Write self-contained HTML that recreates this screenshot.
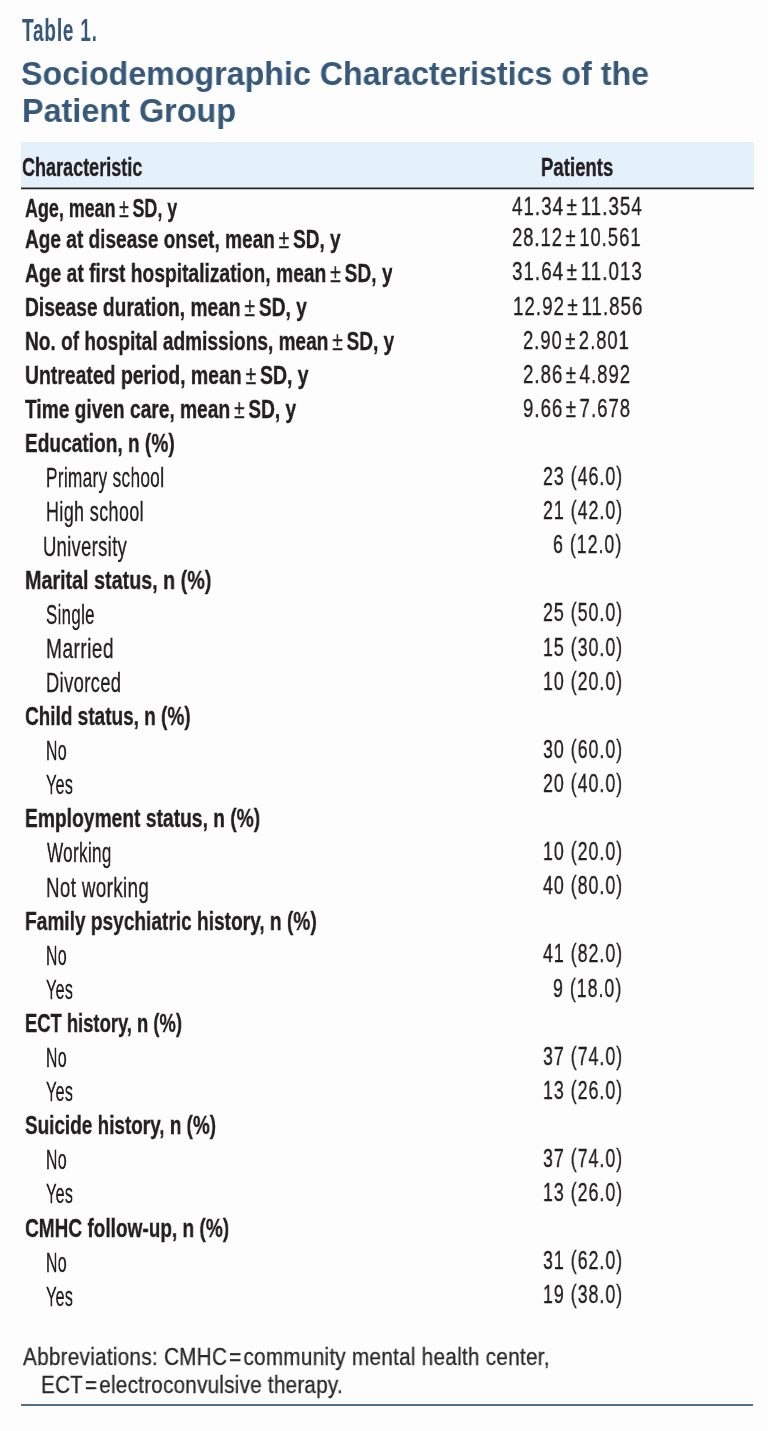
<!DOCTYPE html>
<html lang="en"><head><meta charset="utf-8"><title>Table 1. Sociodemographic Characteristics of the Patient Group</title>
<style>
html,body{margin:0;padding:0;background:#fcfdfc;}
body{width:768px;height:1431px;position:relative;overflow:hidden;font-family:"Liberation Sans",Arial,sans-serif;}
.t{position:absolute;white-space:nowrap;transform-origin:0 0;margin:0;will-change:transform;}
.pm{font-weight:400;}
.band{position:absolute;left:21px;top:142px;width:733px;height:46px;background:#e4f1fb;}
.hl{position:absolute;left:21px;top:187px;width:733px;height:3px;background:linear-gradient(to bottom,#8a9096 0,#8a9096 1px,#262324 1px,#262324 2px,#c4c6c8 2px,#c4c6c8 3px);}
.bl{position:absolute;left:21px;top:1404px;width:732px;height:2px;background:#566f88;}
</style></head><body>
<div class="band"></div><div class="hl"></div><div class="bl"></div>
<div class="t" style="left:22.10px;top:14.80px;font-size:31px;line-height:31px;font-weight:700;color:#375878;transform:scaleX(0.6158);letter-spacing:1.2px;">Table 1.</div>
<div class="t" style="left:21.42px;top:56.70px;font-size:33px;line-height:33px;font-weight:700;color:#375878;transform:scaleX(0.9757);">Sociodemographic Characteristics of the</div>
<div class="t" style="left:22.04px;top:93.80px;font-size:33px;line-height:33px;font-weight:700;color:#375878;transform:scaleX(0.9814);">Patient Group</div>
<div class="t" style="left:21.52px;top:154.10px;font-size:26.7px;line-height:26.7px;font-weight:700;color:#231f20;transform:scaleX(0.6757);-webkit-text-stroke:0.35px #231f20;">Characteristic</div>
<div class="t" style="left:541.30px;top:153.80px;font-size:26.7px;line-height:26.7px;font-weight:700;color:#231f20;transform:scaleX(0.6961);-webkit-text-stroke:0.35px #231f20;">Patients</div>
<div class="t" style="left:24.80px;top:194.60px;font-size:26.7px;line-height:26.7px;font-weight:700;color:#231f20;transform:scaleX(0.6705);-webkit-text-stroke:0.35px #231f20;">Age, mean <span class="pm">±</span> SD, y</div>
<div class="t" style="left:512.30px;top:194.30px;font-size:25px;line-height:25px;font-weight:400;color:#231f20;letter-spacing:1.4px;transform:scaleX(0.7491);-webkit-text-stroke:0.35px #231f20;">41.34 ± 11.354</div>
<div class="t" style="left:24.80px;top:225.60px;font-size:26.7px;line-height:26.7px;font-weight:700;color:#231f20;transform:scaleX(0.7138);-webkit-text-stroke:0.35px #231f20;">Age at disease onset, mean <span class="pm">±</span> SD, y</div>
<div class="t" style="left:511.57px;top:225.30px;font-size:25px;line-height:25px;font-weight:400;color:#231f20;letter-spacing:1.4px;transform:scaleX(0.7339);-webkit-text-stroke:0.35px #231f20;">28.12 ± 10.561</div>
<div class="t" style="left:24.80px;top:259.70px;font-size:26.7px;line-height:26.7px;font-weight:700;color:#231f20;transform:scaleX(0.7205);-webkit-text-stroke:0.35px #231f20;">Age at first hospitalization, mean <span class="pm">±</span> SD, y</div>
<div class="t" style="left:511.55px;top:259.40px;font-size:25px;line-height:25px;font-weight:400;color:#231f20;letter-spacing:1.4px;transform:scaleX(0.7494);-webkit-text-stroke:0.35px #231f20;">31.64 ± 11.013</div>
<div class="t" style="left:25.28px;top:293.80px;font-size:26.7px;line-height:26.7px;font-weight:700;color:#231f20;transform:scaleX(0.7197);-webkit-text-stroke:0.35px #231f20;">Disease duration, mean <span class="pm">±</span> SD, y</div>
<div class="t" style="left:512.65px;top:293.50px;font-size:25px;line-height:25px;font-weight:400;color:#231f20;letter-spacing:1.4px;transform:scaleX(0.7471);-webkit-text-stroke:0.35px #231f20;">12.92 ± 11.856</div>
<div class="t" style="left:25.28px;top:327.90px;font-size:26.7px;line-height:26.7px;font-weight:700;color:#231f20;transform:scaleX(0.7153);-webkit-text-stroke:0.35px #231f20;">No. of hospital admissions, mean <span class="pm">±</span> SD, y</div>
<div class="t" style="left:523.27px;top:327.60px;font-size:25px;line-height:25px;font-weight:400;color:#231f20;letter-spacing:1.4px;transform:scaleX(0.7322);-webkit-text-stroke:0.35px #231f20;">2.90 ± 2.801</div>
<div class="t" style="left:24.97px;top:362.00px;font-size:26.7px;line-height:26.7px;font-weight:700;color:#231f20;transform:scaleX(0.7267);-webkit-text-stroke:0.35px #231f20;">Untreated period, mean <span class="pm">±</span> SD, y</div>
<div class="t" style="left:523.26px;top:361.70px;font-size:25px;line-height:25px;font-weight:400;color:#231f20;letter-spacing:1.4px;transform:scaleX(0.7413);-webkit-text-stroke:0.35px #231f20;">2.86 ± 4.892</div>
<div class="t" style="left:25.00px;top:396.10px;font-size:26.7px;line-height:26.7px;font-weight:700;color:#231f20;transform:scaleX(0.7175);-webkit-text-stroke:0.35px #231f20;">Time given care, mean <span class="pm">±</span> SD, y</div>
<div class="t" style="left:523.26px;top:395.80px;font-size:25px;line-height:25px;font-weight:400;color:#231f20;letter-spacing:1.4px;transform:scaleX(0.7413);-webkit-text-stroke:0.35px #231f20;">9.66 ± 7.678</div>
<div class="t" style="left:25.28px;top:430.20px;font-size:26.7px;line-height:26.7px;font-weight:700;color:#231f20;transform:scaleX(0.7159);-webkit-text-stroke:0.35px #231f20;">Education, n (%)</div>
<div class="t" style="left:46.38px;top:464.30px;font-size:28px;line-height:28px;font-weight:400;color:#231f20;letter-spacing:0.6px;transform:scaleX(0.6113);-webkit-text-stroke:0.35px #231f20;">Primary school</div>
<div class="t" style="left:542.79px;top:464.00px;font-size:25px;line-height:25px;font-weight:400;color:#231f20;letter-spacing:1.4px;transform:scaleX(0.7110);-webkit-text-stroke:0.35px #231f20;">23 (46.0)</div>
<div class="t" style="left:46.12px;top:498.40px;font-size:28px;line-height:28px;font-weight:400;color:#231f20;letter-spacing:0.6px;transform:scaleX(0.6409);-webkit-text-stroke:0.35px #231f20;">High school</div>
<div class="t" style="left:542.79px;top:498.10px;font-size:25px;line-height:25px;font-weight:400;color:#231f20;letter-spacing:1.4px;transform:scaleX(0.7110);-webkit-text-stroke:0.35px #231f20;">21 (42.0)</div>
<div class="t" style="left:42.89px;top:532.50px;font-size:28px;line-height:28px;font-weight:400;color:#231f20;letter-spacing:0.6px;transform:scaleX(0.6528);-webkit-text-stroke:0.35px #231f20;">University</div>
<div class="t" style="left:553.45px;top:532.20px;font-size:25px;line-height:25px;font-weight:400;color:#231f20;letter-spacing:1.4px;transform:scaleX(0.7110);-webkit-text-stroke:0.35px #231f20;">6 (12.0)</div>
<div class="t" style="left:25.26px;top:566.60px;font-size:26.7px;line-height:26.7px;font-weight:700;color:#231f20;transform:scaleX(0.7392);-webkit-text-stroke:0.35px #231f20;">Marital status, n (%)</div>
<div class="t" style="left:46.20px;top:600.70px;font-size:28px;line-height:28px;font-weight:400;color:#231f20;letter-spacing:0.6px;transform:scaleX(0.6000);-webkit-text-stroke:0.35px #231f20;">Single</div>
<div class="t" style="left:542.79px;top:600.40px;font-size:25px;line-height:25px;font-weight:400;color:#231f20;letter-spacing:1.4px;transform:scaleX(0.7110);-webkit-text-stroke:0.35px #231f20;">25 (50.0)</div>
<div class="t" style="left:46.03px;top:634.80px;font-size:28px;line-height:28px;font-weight:400;color:#231f20;letter-spacing:0.6px;transform:scaleX(0.6853);-webkit-text-stroke:0.35px #231f20;">Married</div>
<div class="t" style="left:542.79px;top:634.50px;font-size:25px;line-height:25px;font-weight:400;color:#231f20;letter-spacing:1.4px;transform:scaleX(0.7110);-webkit-text-stroke:0.35px #231f20;">15 (30.0)</div>
<div class="t" style="left:46.09px;top:668.90px;font-size:28px;line-height:28px;font-weight:400;color:#231f20;letter-spacing:0.6px;transform:scaleX(0.6541);-webkit-text-stroke:0.35px #231f20;">Divorced</div>
<div class="t" style="left:542.79px;top:668.60px;font-size:25px;line-height:25px;font-weight:400;color:#231f20;letter-spacing:1.4px;transform:scaleX(0.7110);-webkit-text-stroke:0.35px #231f20;">10 (20.0)</div>
<div class="t" style="left:24.99px;top:703.00px;font-size:26.7px;line-height:26.7px;font-weight:700;color:#231f20;transform:scaleX(0.7113);-webkit-text-stroke:0.35px #231f20;">Child status, n (%)</div>
<div class="t" style="left:46.26px;top:737.10px;font-size:28px;line-height:28px;font-weight:400;color:#231f20;letter-spacing:0.6px;transform:scaleX(0.5676);-webkit-text-stroke:0.35px #231f20;">No</div>
<div class="t" style="left:542.79px;top:736.80px;font-size:25px;line-height:25px;font-weight:400;color:#231f20;letter-spacing:1.4px;transform:scaleX(0.7110);-webkit-text-stroke:0.35px #231f20;">30 (60.0)</div>
<div class="t" style="left:46.40px;top:771.20px;font-size:28px;line-height:28px;font-weight:400;color:#231f20;letter-spacing:0.6px;transform:scaleX(0.5723);-webkit-text-stroke:0.35px #231f20;">Yes</div>
<div class="t" style="left:542.79px;top:770.90px;font-size:25px;line-height:25px;font-weight:400;color:#231f20;letter-spacing:1.4px;transform:scaleX(0.7110);-webkit-text-stroke:0.35px #231f20;">20 (40.0)</div>
<div class="t" style="left:25.28px;top:805.30px;font-size:26.7px;line-height:26.7px;font-weight:700;color:#231f20;transform:scaleX(0.7210);-webkit-text-stroke:0.35px #231f20;">Employment status, n (%)</div>
<div class="t" style="left:46.50px;top:839.40px;font-size:28px;line-height:28px;font-weight:400;color:#231f20;letter-spacing:0.6px;transform:scaleX(0.6086);-webkit-text-stroke:0.35px #231f20;">Working</div>
<div class="t" style="left:542.79px;top:839.10px;font-size:25px;line-height:25px;font-weight:400;color:#231f20;letter-spacing:1.4px;transform:scaleX(0.7110);-webkit-text-stroke:0.35px #231f20;">10 (20.0)</div>
<div class="t" style="left:46.06px;top:873.50px;font-size:28px;line-height:28px;font-weight:400;color:#231f20;letter-spacing:0.6px;transform:scaleX(0.6682);-webkit-text-stroke:0.35px #231f20;">Not working</div>
<div class="t" style="left:542.79px;top:873.20px;font-size:25px;line-height:25px;font-weight:400;color:#231f20;letter-spacing:1.4px;transform:scaleX(0.7110);-webkit-text-stroke:0.35px #231f20;">40 (80.0)</div>
<div class="t" style="left:25.28px;top:907.60px;font-size:26.7px;line-height:26.7px;font-weight:700;color:#231f20;transform:scaleX(0.7160);-webkit-text-stroke:0.35px #231f20;">Family psychiatric history, n (%)</div>
<div class="t" style="left:46.26px;top:941.70px;font-size:28px;line-height:28px;font-weight:400;color:#231f20;letter-spacing:0.6px;transform:scaleX(0.5676);-webkit-text-stroke:0.35px #231f20;">No</div>
<div class="t" style="left:542.79px;top:941.40px;font-size:25px;line-height:25px;font-weight:400;color:#231f20;letter-spacing:1.4px;transform:scaleX(0.7110);-webkit-text-stroke:0.35px #231f20;">41 (82.0)</div>
<div class="t" style="left:46.40px;top:975.80px;font-size:28px;line-height:28px;font-weight:400;color:#231f20;letter-spacing:0.6px;transform:scaleX(0.5723);-webkit-text-stroke:0.35px #231f20;">Yes</div>
<div class="t" style="left:553.45px;top:975.50px;font-size:25px;line-height:25px;font-weight:400;color:#231f20;letter-spacing:1.4px;transform:scaleX(0.7110);-webkit-text-stroke:0.35px #231f20;">9 (18.0)</div>
<div class="t" style="left:25.31px;top:1009.90px;font-size:26.7px;line-height:26.7px;font-weight:700;color:#231f20;transform:scaleX(0.6889);-webkit-text-stroke:0.35px #231f20;">ECT history, n (%)</div>
<div class="t" style="left:46.26px;top:1044.00px;font-size:28px;line-height:28px;font-weight:400;color:#231f20;letter-spacing:0.6px;transform:scaleX(0.5676);-webkit-text-stroke:0.35px #231f20;">No</div>
<div class="t" style="left:542.79px;top:1043.70px;font-size:25px;line-height:25px;font-weight:400;color:#231f20;letter-spacing:1.4px;transform:scaleX(0.7110);-webkit-text-stroke:0.35px #231f20;">37 (74.0)</div>
<div class="t" style="left:46.40px;top:1078.10px;font-size:28px;line-height:28px;font-weight:400;color:#231f20;letter-spacing:0.6px;transform:scaleX(0.5723);-webkit-text-stroke:0.35px #231f20;">Yes</div>
<div class="t" style="left:542.79px;top:1077.80px;font-size:25px;line-height:25px;font-weight:400;color:#231f20;letter-spacing:1.4px;transform:scaleX(0.7110);-webkit-text-stroke:0.35px #231f20;">13 (26.0)</div>
<div class="t" style="left:25.00px;top:1112.20px;font-size:26.7px;line-height:26.7px;font-weight:700;color:#231f20;transform:scaleX(0.7093);-webkit-text-stroke:0.35px #231f20;">Suicide history, n (%)</div>
<div class="t" style="left:46.26px;top:1146.30px;font-size:28px;line-height:28px;font-weight:400;color:#231f20;letter-spacing:0.6px;transform:scaleX(0.5676);-webkit-text-stroke:0.35px #231f20;">No</div>
<div class="t" style="left:542.79px;top:1146.00px;font-size:25px;line-height:25px;font-weight:400;color:#231f20;letter-spacing:1.4px;transform:scaleX(0.7110);-webkit-text-stroke:0.35px #231f20;">37 (74.0)</div>
<div class="t" style="left:46.40px;top:1180.40px;font-size:28px;line-height:28px;font-weight:400;color:#231f20;letter-spacing:0.6px;transform:scaleX(0.5723);-webkit-text-stroke:0.35px #231f20;">Yes</div>
<div class="t" style="left:542.79px;top:1180.10px;font-size:25px;line-height:25px;font-weight:400;color:#231f20;letter-spacing:1.4px;transform:scaleX(0.7110);-webkit-text-stroke:0.35px #231f20;">13 (26.0)</div>
<div class="t" style="left:24.99px;top:1214.50px;font-size:26.7px;line-height:26.7px;font-weight:700;color:#231f20;transform:scaleX(0.7134);-webkit-text-stroke:0.35px #231f20;">CMHC follow-up, n (%)</div>
<div class="t" style="left:46.26px;top:1248.60px;font-size:28px;line-height:28px;font-weight:400;color:#231f20;letter-spacing:0.6px;transform:scaleX(0.5676);-webkit-text-stroke:0.35px #231f20;">No</div>
<div class="t" style="left:542.79px;top:1248.30px;font-size:25px;line-height:25px;font-weight:400;color:#231f20;letter-spacing:1.4px;transform:scaleX(0.7110);-webkit-text-stroke:0.35px #231f20;">31 (62.0)</div>
<div class="t" style="left:46.40px;top:1282.70px;font-size:28px;line-height:28px;font-weight:400;color:#231f20;letter-spacing:0.6px;transform:scaleX(0.5723);-webkit-text-stroke:0.35px #231f20;">Yes</div>
<div class="t" style="left:542.79px;top:1282.40px;font-size:25px;line-height:25px;font-weight:400;color:#231f20;letter-spacing:1.4px;transform:scaleX(0.7110);-webkit-text-stroke:0.35px #231f20;">19 (38.0)</div>
<div class="t" style="left:22.50px;top:1346.00px;font-size:23px;line-height:23px;font-weight:400;color:#2a2a2a;transform:scaleX(0.8998);-webkit-text-stroke:0.3px #2a2a2a;letter-spacing:0.3px;">Abbreviations: CMHC = community mental health center,</div>
<div class="t" style="left:40.70px;top:1373.80px;font-size:23px;line-height:23px;font-weight:400;color:#2a2a2a;transform:scaleX(0.8958);-webkit-text-stroke:0.3px #2a2a2a;letter-spacing:0.3px;">ECT = electroconvulsive therapy.</div>
</body></html>
